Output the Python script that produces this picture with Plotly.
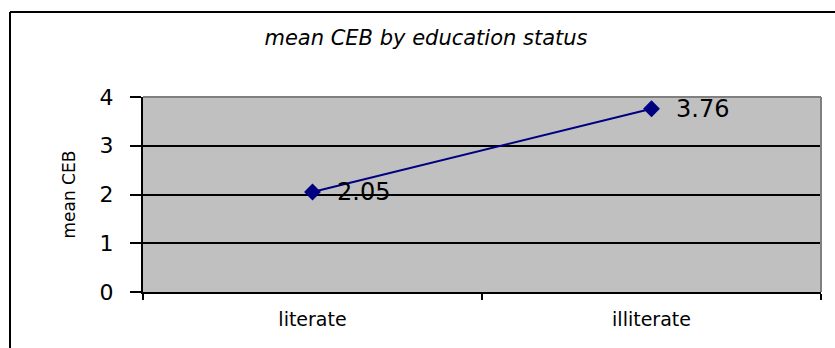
import plotly.graph_objects as go

# mean children ever born by education status
categories = ["literate", "illiterate"]
mean_ceb = [2.05, 3.76]
y_ticks = [0, 1, 2, 3, 4]

W, H = 835, 348
L, R, T, B = 143, 14, 97, 56
pw, ph = W - L - R, H - T - B
FONT = "DejaVu Sans, Liberation Sans, Arial"

fig = go.Figure()
fig.add_trace(go.Scatter(
    x=categories, y=mean_ceb, mode="lines+markers",
    line=dict(color="#000080", width=2),
    marker=dict(symbol="diamond", size=13, color="#000080"),
    hoverinfo="skip", showlegend=False,
))

# value labels beside each point
for c, v in zip(categories, mean_ceb):
    fig.add_annotation(x=c, y=v, text=f"{v:.2f}", showarrow=False,
                       xanchor="left", yanchor="middle", xshift=22,
                       font=dict(family=FONT, size=24, color="black"))

fig.update_layout(
    width=W, height=H,
    margin=dict(l=L, r=R, t=T, b=B),
    paper_bgcolor="white", plot_bgcolor="#C0C0C0",
    font=dict(family=FONT, color="black"),
    title=dict(text="<i>mean CEB by education status</i>", x=426 / W, xanchor="center",
               y=1 - 38 / H, yanchor="middle",
               font=dict(size=21, family=FONT, color="black")),
    xaxis=dict(type="category", range=[-0.5, 1.5], tickson="boundaries",
               ticks="outside", ticklen=6, tickwidth=2, tickcolor="black",
               showline=True, linecolor="black", linewidth=2, showgrid=False,
               tickfont=dict(size=19), ticklabelstandoff=9, fixedrange=True),
    yaxis=dict(range=[0, 4], tickvals=y_ticks, ticks="outside", ticklen=11,
               tickwidth=2, tickcolor="black", showline=True, linecolor="black",
               linewidth=2, showgrid=True, gridcolor="black", gridwidth=2,
               zeroline=False, tickfont=dict(size=22), ticklabelstandoff=12,
               fixedrange=True),
)

# y-axis title
fig.add_annotation(xref="paper", yref="paper", x=(68 - L) / pw, y=0.5,
                   text="mean CEB", textangle=-90, showarrow=False,
                   xanchor="center", yanchor="middle",
                   font=dict(family=FONT, size=17))

# grey top and right edges of the plot area
fig.add_shape(type="line", xref="paper", yref="paper", x0=0, x1=1, y0=1, y1=1,
              line=dict(color="#808080", width=2))
fig.add_shape(type="line", xref="paper", yref="paper", x0=1, x1=1, y0=0, y1=1,
              line=dict(color="#808080", width=2))

# chart frame: top and left sides (the others fall outside the page)
fx0 = (10 - L) / pw
fy1 = (T - 12) / ph + 1
fig.add_shape(type="line", xref="paper", yref="paper",
              x0=fx0, x1=(W - L) / pw, y0=fy1, y1=fy1,
              line=dict(color="black", width=2), layer="above")
fig.add_shape(type="line", xref="paper", yref="paper",
              x0=fx0, x1=fx0, y0=fy1, y1=-(H - T - ph) / ph,
              line=dict(color="black", width=2), layer="above")

fig.write_html("out.html")
